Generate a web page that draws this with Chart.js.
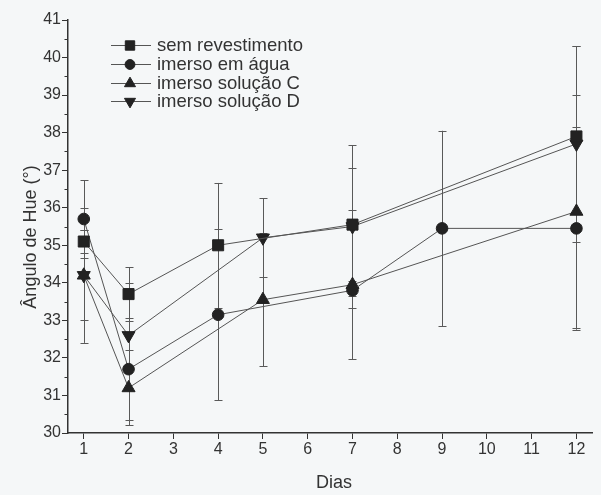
<!DOCTYPE html>
<html><head><meta charset="utf-8">
<script src="https://cdn.jsdelivr.net/npm/chart.js@4/dist/chart.umd.min.js"></script>
<style>html,body{margin:0;padding:0;background:#f5f7f8}canvas{display:block}</style>
</head><body>
<canvas id="c" width="601" height="495"></canvas>
<script>
// ---- data ----
const seriesLabels = ["sem revestimento", "imerso em água", "imerso solução C", "imerso solução D"];
const xTickValues = [1,2,3,4,5,6,7,8,9,10,11,12];
const yTickValues = [30,31,32,33,34,35,36,37,38,39,40,41];

const semDias = [1, 2, 4, 7, 12];
const semVals = [35.1, 33.7, 35.0, 35.55, 37.9];
const semErr  = [0.3, 0.72, 1.66, 1.5, 2.4];

const aguaDias = [1, 2, 4, 7, 9, 12];
const aguaVals = [35.7, 31.7, 33.15, 33.8, 35.45, 35.45];
const aguaErr  = [1.03, 1.35, 2.28, 0.16, 2.6, 2.7];

const solCDias = [1, 2, 5, 7, 12];
const solCVals = [34.2, 31.2, 33.55, 33.95, 35.9];
const solCErr  = [1.2, 1.0, 1.77, 1.98, 3.1];

const solDDias = [1, 2, 5, 7, 12];
const solDVals = [34.2, 32.6, 35.2, 35.5, 37.7];
const solDErr  = [1.8, 1.4, 1.05, 2.17, 2.6];

// ---- build ----
const FONT = "Liberation Sans, Arial, sans-serif";
const TXT = "#333";
const MARK = "#222";
function pts(xs, ys){ return xs.map((x,i)=>({x:x, y:ys[i]})); }
const errs = [semErr, aguaErr, solCErr, solDErr];
const styles = [
  {pointStyle:'rect', radius:7.8, rotation:0},
  {pointStyle:'circle', radius:5.8, rotation:0},
  {pointStyle:'triangle', radius:7.5, rotation:0},
  {pointStyle:'triangle', radius:7.5, rotation:180}
];
const allData = [pts(semDias, semVals), pts(aguaDias, aguaVals), pts(solCDias, solCVals), pts(solDDias, solDVals)];

const datasets = allData.map((d,i)=>({
  label: seriesLabels[i],
  data: d,
  borderColor: '#555',
  borderWidth: 1,
  tension: 0,
  pointStyle: styles[i].pointStyle,
  pointRadius: styles[i].radius,
  pointHoverRadius: styles[i].radius,
  pointRotation: styles[i].rotation,
  pointBackgroundColor: MARK,
  pointBorderColor: MARK,
  pointBorderWidth: 1
}));

const decor = {
  id: 'decor',
  beforeDraw(chart){
    const ctx = chart.ctx;
    ctx.save();
    ctx.fillStyle = '#f5f7f8';
    ctx.fillRect(0,0,chart.width,chart.height);
    ctx.restore();
  },
  beforeDatasetsDraw(chart){
    const ctx = chart.ctx, ys = chart.scales.y;
    ctx.save();
    ctx.strokeStyle = '#595959';
    ctx.lineWidth = 1;
    chart.data.datasets.forEach((ds, i)=>{
      const meta = chart.getDatasetMeta(i);
      meta.data.forEach((p, j)=>{
        const v = ds.data[j].y, e = errs[i][j];
        const x = Math.round(p.x) + 0.5;
        const yt = ys.getPixelForValue(v + e), yb = ys.getPixelForValue(v - e);
        ctx.beginPath();
        ctx.moveTo(x, yt); ctx.lineTo(x, yb);
        ctx.moveTo(x-4, Math.round(yt)+0.5); ctx.lineTo(x+4, Math.round(yt)+0.5);
        ctx.moveTo(x-4, Math.round(yb)+0.5); ctx.lineTo(x+4, Math.round(yb)+0.5);
        ctx.stroke();
      });
    });
    ctx.restore();
  },
  afterDraw(chart){
    const ctx = chart.ctx, ys = chart.scales.y, a = chart.chartArea;
    ctx.save();
    // minor ticks on y
    ctx.strokeStyle = '#333'; ctx.lineWidth = 1;
    for (let v = 30.5; v < 41; v += 1){
      const y = Math.round(ys.getPixelForValue(v)) + 0.5;
      ctx.beginPath(); ctx.moveTo(a.left - 3.5, y); ctx.lineTo(a.left, y); ctx.stroke();
    }
    // legend
    const rows = [45, 64, 83, 101];
    ctx.font = '18.5px ' + FONT;
    ctx.textBaseline = 'middle';
    ctx.textAlign = 'left';
    chart.data.datasets.forEach((ds, i)=>{
      const y = rows[i];
      ctx.strokeStyle = '#555'; ctx.lineWidth = 1;
      ctx.beginPath(); ctx.moveTo(111, y+0.5); ctx.lineTo(151, y+0.5); ctx.stroke();
      ctx.fillStyle = MARK; ctx.strokeStyle = MARK;
      Chart.helpers.drawPoint(ctx, {pointStyle: styles[i].pointStyle, radius: styles[i].radius*0.85, rotation: styles[i].rotation, borderWidth:1}, 130, y+0.5);
      ctx.fillStyle = TXT;
      ctx.fillText(ds.label, 157, y+1);
    });
    // axis titles
    ctx.font = '18px ' + FONT;
    ctx.fillStyle = TXT;
    ctx.textAlign = 'center';
    ctx.fillText('Dias', 334, 483);
    ctx.translate(31, 237);
    ctx.rotate(-Math.PI/2);
    ctx.fillText('Ângulo de Hue (°)', 0, 0);
    ctx.restore();
  }
};

new Chart(document.getElementById('c'), {
  type: 'line',
  data: { datasets },
  options: {
    responsive: false,
    animation: false,
    devicePixelRatio: 1,
    layout: { padding: { top: 20, right: 1, left: 0, bottom: 0 } },
    plugins: { legend: { display: false }, tooltip: { enabled: false } },
    scales: {
      x: {
        type: 'linear',
        min: 0.648, max: 12.352,
        afterBuildTicks(s){ s.ticks = xTickValues.map(v=>({value:v})); },
        afterFit(s){ s.height = 62; },
        ticks: { color: TXT, font: { family: FONT, size: 16 }, padding: 1, autoSkip: false, maxRotation: 0 },
        grid: { drawOnChartArea: false, drawTicks: true, tickLength: 6, color: '#333', lineWidth: 1 },
        border: { display: true, color: '#333', width: 1.5 }
      },
      y: {
        type: 'linear',
        min: 30, max: 41,
        afterBuildTicks(s){ s.ticks = yTickValues.map(v=>({value:v})); },
        afterFit(s){ s.width = 68; },
        ticks: { color: TXT, font: { family: FONT, size: 16 }, padding: 1, autoSkip: false },
        grid: { drawOnChartArea: false, drawTicks: true, tickLength: 6, color: '#333', lineWidth: 1 },
        border: { display: true, color: '#333', width: 1.5 }
      }
    }
  },
  plugins: [decor]
});
</script>
</body></html>
